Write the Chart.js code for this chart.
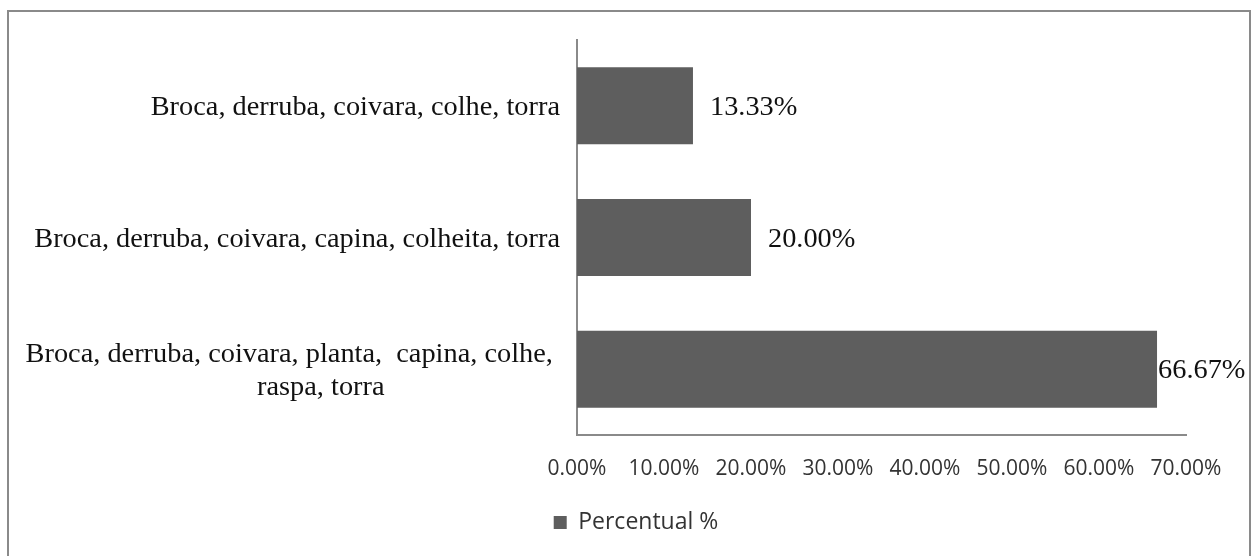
<!DOCTYPE html>
<html>
<head>
<meta charset="utf-8">
<script src="https://cdn.jsdelivr.net/npm/chart.js@4/dist/chart.umd.min.js"></script>
<style>
html,body{margin:0;padding:0;background:#fff;}
#wrap{width:1251px;height:556px;position:relative;}
</style>
</head>
<body>
<div id="wrap"><canvas id="c" width="1251" height="556"></canvas></div>
<script>
const categories = [
  ["Broca, derruba, coivara, colhe, torra"],
  ["Broca, derruba, coivara, capina, colheita, torra"],
  ["Broca, derruba, coivara, planta,  capina, colhe, ", "raspa, torra"]
];
const values = [13.33, 20.00, 66.67];
const seriesName = "Percentual %";
const xTicks = [0, 10, 20, 30, 40, 50, 60, 70];

const SERIF = '"Liberation Serif", "Times New Roman", serif';
const SANS = '"Open Sans", "Liberation Sans", sans-serif';
const H_SCALE = 1.05;
const SERIF_SIZE = 27;

function stretchedText(ctx, text, x, y, align) {
  const w = ctx.measureText(text).width * H_SCALE;
  let left = x;
  if (align === 'right') left = x - w;
  else if (align === 'center') left = x - w / 2;
  ctx.save();
  ctx.translate(left, y);
  ctx.scale(H_SCALE, 1);
  ctx.textAlign = 'left';
  ctx.fillText(text, 0, 0);
  ctx.restore();
  return w;
}

const framePlugin = {
  id: 'frame',
  beforeDraw(chart) {
    const ctx = chart.ctx;
    ctx.save();
    ctx.fillStyle = '#ffffff';
    ctx.fillRect(0, 0, chart.width, chart.height);
    ctx.strokeStyle = '#8a8a8a';
    ctx.lineWidth = 2;
    ctx.strokeRect(8, 11, chart.width - 9, chart.height + 20);
    ctx.restore();
  }
};

const labelPlugin = {
  id: 'labels',
  afterDatasetsDraw(chart) {
    const ctx = chart.ctx;
    const yScale = chart.scales.y;
    const meta = chart.getDatasetMeta(0);
    ctx.save();
    ctx.font = SERIF_SIZE + 'px ' + SERIF;
    ctx.fillStyle = '#111111';
    ctx.textBaseline = 'alphabetic';
    const right = chart.chartArea.left - 17;
    const lineH = 33;
    const capHalf = 9;
    categories.forEach((lines, i) => {
      const cy = yScale.getPixelForTick(i);
      const w1 = ctx.measureText(lines[0]).width * H_SCALE;
      lines.forEach((t, j) => {
        const y = cy + capHalf + (j - (lines.length - 1) / 2) * lineH;
        if (j === 0) {
          stretchedText(ctx, t, right, y, 'right');
        } else {
          stretchedText(ctx, t, right - w1 / 2 + 28, y, 'center');
        }
      });
    });
    // data labels
    meta.data.forEach((bar, i) => {
      const txt = values[i].toFixed(2) + '%';
      const w = ctx.measureText(txt).width * H_SCALE;
      let x = bar.x + 17;
      const maxX = chart.width - 6 - w;
      if (x > maxX) x = Math.max(bar.x + 1, maxX);
      stretchedText(ctx, txt, x, bar.y + capHalf, 'left');
    });
    ctx.restore();
  }
};

new Chart(document.getElementById('c'), {
  type: 'bar',
  data: {
    labels: categories,
    datasets: [{
      label: seriesName,
      data: values,
      backgroundColor: '#5e5e5e',
      borderWidth: 0,
      categoryPercentage: 1.0,
      barPercentage: 0.585
    }]
  },
  options: {
    indexAxis: 'y',
    responsive: false,
    animation: false,
    devicePixelRatio: 1,
    layout: { padding: { top: 40, right: 65, left: 86, bottom: 12 } },
    plugins: {
      legend: {
        display: true,
        position: 'bottom',
        align: 'center',
        labels: {
          boxWidth: 13,
          boxHeight: 13,
          padding: 10,
          color: '#333333',
          font: { family: SANS, size: 23 }
        }
      },
      tooltip: { enabled: false }
    },
    scales: {
      x: {
        type: 'linear',
        min: 0,
        max: 70,
        afterBuildTicks(scale) { scale.ticks = xTicks.map(v => ({ value: v })); },
        afterFit(scale) { scale.height = 66; },
        grid: { display: false, drawTicks: false },
        border: { display: true, color: '#8a8a8a', width: 2 },
        ticks: {
          padding: 21,
          color: '#333333',
          font: { family: SANS, size: 21 },
          maxRotation: 0,
          autoSkip: false,
          callback: v => Number(v).toFixed(2) + '%'
        }
      },
      y: {
        afterFit(scale) { scale.width = 491; },
        grid: { display: false, drawTicks: false },
        border: { display: true, color: '#8a8a8a', width: 2 },
        ticks: { display: false }
      }
    }
  },
  plugins: [framePlugin, labelPlugin]
});
</script>
</body>
</html>
